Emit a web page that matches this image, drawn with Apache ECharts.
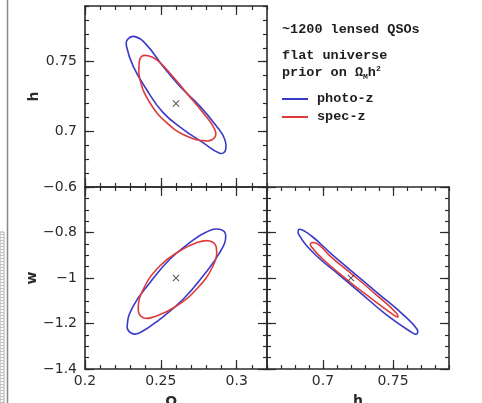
<!DOCTYPE html>
<html>
<head>
<meta charset="utf-8">
<script src="https://cdn.jsdelivr.net/npm/echarts@6/dist/echarts.min.js"></script>
<style>
  html, body { margin: 0; padding: 0; background: #fff; }
  #chart { width: 482px; height: 403px; }
</style>
</head>
<body>
<div id="chart"></div>
<script>
// contours, [x, y] pairs going round each ellipse
const omH_photoZ = [
  [0.2406, 0.7300], [0.2515, 0.7134], [0.2647, 0.7014], [0.2778, 0.6919], [0.2888, 0.6843],
  [0.2925, 0.6860], [0.2921, 0.6943], [0.2866, 0.7038], [0.2757, 0.7181], [0.2625, 0.7324],
  [0.2515, 0.7466], [0.2406, 0.7621], [0.2330, 0.7680], [0.2280, 0.7660], [0.2274, 0.7609],
  [0.2318, 0.7466]
];
const omH_specZ = [
  [0.2428, 0.7205], [0.2538, 0.7062], [0.2669, 0.6966], [0.2801, 0.6931], [0.2855, 0.6955],
  [0.2855, 0.7014], [0.2778, 0.7134], [0.2669, 0.7276], [0.2559, 0.7419], [0.2472, 0.7514],
  [0.2416, 0.7543], [0.2373, 0.7538], [0.2357, 0.7491], [0.2362, 0.7371]
];
const omW_photoZ = [
  [0.2428, -1.0207], [0.2559, -0.9178], [0.2691, -0.8448], [0.2801, -0.7978], [0.2888, -0.7859],
  [0.2928, -0.8154], [0.2888, -0.8888], [0.2778, -0.9912], [0.2647, -1.0936], [0.2493, -1.1815],
  [0.2362, -1.2404], [0.2307, -1.2431], [0.2278, -1.2110], [0.2318, -1.1231]
];
const omW_specZ = [
  [0.2493, -0.9473], [0.2625, -0.8813], [0.2735, -0.8448], [0.2822, -0.8374], [0.2866, -0.8668],
  [0.2844, -0.9473], [0.2735, -1.0497], [0.2603, -1.1231], [0.2472, -1.1670], [0.2384, -1.1745],
  [0.2351, -1.1376], [0.2384, -1.0497]
];
const hW_photoZ = [
  [0.7111, -0.9837], [0.7280, -1.0716], [0.7449, -1.1596], [0.7618, -1.2330], [0.7667, -1.2475],
  [0.7672, -1.2255], [0.7570, -1.1596], [0.7401, -1.0716], [0.7232, -0.9837], [0.7063, -0.8958],
  [0.6918, -0.8154], [0.6833, -0.7859], [0.6826, -0.8079], [0.6942, -0.8958]
];
const hW_specZ = [
  [0.7183, -1.0132], [0.7353, -1.0936], [0.7498, -1.1596], [0.7534, -1.1714], [0.7522, -1.1525],
  [0.7377, -1.0716], [0.7208, -0.9837], [0.7063, -0.9108], [0.6966, -0.8519], [0.6918, -0.8448],
  [0.6913, -0.8593], [0.7014, -0.9253]
];

const fiducial = { om: 0.26, h: 0.72, w: -1 };

const omRange = [0.2, 0.32];
const hRange = [0.66, 0.79];
const wRange = [-1.4, -0.6];
const omMajor = [0.2, 0.25, 0.3];
const hMajor = [0.7, 0.75];
const wMajor = [-1.4, -1.2, -1, -0.8, -0.6];

const BLUE = '#3a3ac8';
const RED = '#dd3b3b';
const INK = '#2b2b2b';
const labelFont = 'DejaVu Sans';
const noteFont = 'Liberation Mono';

const xAxes = [];
const yAxes = [];

// every side of a panel gets two stacked axes: one for the small ticks, one for the long ones
function addAxisPair(list, gridIndex, position, range, step, majors, withLabels, name) {
  const tickLine = { color: INK, width: 1.2 };
  list.push({
    type: 'value',
    gridIndex,
    position,
    min: range[0],
    max: range[1],
    interval: step,
    axisLine: { show: true, onZero: false, lineStyle: { color: INK, width: 1.6 } },
    axisTick: { show: true, inside: true, length: 4, lineStyle: tickLine },
    axisLabel: { show: false },
    splitLine: { show: false }
  });
  const dataIndex = list.length - 1;
  const major = {
    type: 'value',
    gridIndex,
    position,
    min: range[0],
    max: range[1],
    axisLine: { show: false, onZero: false },
    axisTick: { show: true, inside: true, length: 9, customValues: majors, lineStyle: tickLine },
    axisLabel: {
      show: withLabels,
      customValues: majors,
      color: INK,
      fontFamily: labelFont,
      fontSize: 14,
      margin: position === 'left' ? 8 : 5,
      formatter: (v) => String(v).replace('-', '\u2212')
    },
    splitLine: { show: false }
  };
  if (name) {
    Object.assign(major, {
      name,
      nameLocation: 'middle',
      nameGap: position === 'left' ? 44 : 25,
      nameTextStyle: {
        color: INK,
        fontFamily: labelFont,
        fontWeight: 'bold',
        fontSize: 14,
        rich: {
          a: { fontFamily: labelFont, fontWeight: 'bold', fontSize: 14, color: INK },
          s: { fontFamily: labelFont, fontWeight: 'bold', fontSize: 9, color: INK, padding: [8, 0, 0, 0] }
        }
      }
    });
  }
  list.push(major);
  return dataIndex;
}

// panel 0: Omega_m vs h, panel 1: Omega_m vs w, panel 2: h vs w
const x0 = addAxisPair(xAxes, 0, 'bottom', omRange, 0.01, omMajor, false);
addAxisPair(xAxes, 0, 'top', omRange, 0.01, omMajor, false);
const y0 = addAxisPair(yAxes, 0, 'left', hRange, 0.01, hMajor, true, 'h');
addAxisPair(yAxes, 0, 'right', hRange, 0.01, hMajor, false);

const x1 = addAxisPair(xAxes, 1, 'bottom', omRange, 0.01, omMajor, true, '{a|\u03a9}{s|m}');
addAxisPair(xAxes, 1, 'top', omRange, 0.01, omMajor, false);
const y1 = addAxisPair(yAxes, 1, 'left', wRange, 0.05, wMajor, true, 'w');
addAxisPair(yAxes, 1, 'right', wRange, 0.05, wMajor, false);

const x2 = addAxisPair(xAxes, 2, 'bottom', hRange, 0.01, hMajor, true, 'h');
addAxisPair(xAxes, 2, 'top', hRange, 0.01, hMajor, false);
const y2 = addAxisPair(yAxes, 2, 'left', wRange, 0.05, wMajor, false);
addAxisPair(yAxes, 2, 'right', wRange, 0.05, wMajor, false);

const crossSymbol = 'path://M0,1L1,0L5,4L9,0L10,1L6,5L10,9L9,10L5,6L1,10L0,9L4,5Z';

// closed smooth outline through the read points, placed with the axes' own coord()
function contour(name, color, points, xi, yi) {
  return {
    name,
    type: 'custom',
    xAxisIndex: xi,
    yAxisIndex: yi,
    data: points,
    encode: { x: 0, y: 1 },
    silent: true,
    itemStyle: { color },
    renderItem: (params, api) => {
      if (params.dataIndex !== 0) return null;
      return {
        type: 'polygon',
        shape: { points: points.map((p) => api.coord(p)), smooth: 0.45 },
        style: { fill: 'none', stroke: color, lineWidth: 1.6 }
      };
    }
  };
}

function marker(point, xi, yi) {
  return {
    type: 'scatter',
    xAxisIndex: xi,
    yAxisIndex: yi,
    data: [point],
    symbol: crossSymbol,
    symbolSize: 7,
    silent: true,
    itemStyle: { color: INK }
  };
}

const chart = echarts.init(document.getElementById('chart'), null, { renderer: 'canvas' });

const noteStyle = { fill: '#1e1e1e', font: 'bold 13.5px "Liberation Mono"' };

chart.setOption({
  animation: false,
  backgroundColor: '#fff',
  grid: [
    { left: 85, top: 6, width: 182, height: 181, outerBoundsMode: 'none' },
    { left: 85, top: 187, width: 182, height: 182, outerBoundsMode: 'none' },
    { left: 267, top: 187, width: 182, height: 182, outerBoundsMode: 'none' }
  ],
  xAxis: xAxes,
  yAxis: yAxes,
  legend: {
    data: ['photo-z', 'spec-z'],
    orient: 'vertical',
    left: 282,
    top: 92,
    padding: 0,
    icon: 'rect',
    itemWidth: 26,
    itemHeight: 2,
    itemGap: 4,
    selectedMode: false,
    textStyle: {
      color: '#1e1e1e', fontFamily: noteFont, fontWeight: 'bold', fontSize: 13.5, padding: [0, 0, 0, 4]
    }
  },
  graphic: [
    { type: 'line', shape: { x1: 7.5, y1: 0, x2: 7.5, y2: 403 }, style: { stroke: '#888', lineWidth: 1.5 } },
    { type: 'rect', shape: { x: 0, y: 232, width: 4, height: 171 }, style: { fill: '#fff', stroke: '#aaa', lineWidth: 1 } },
    { type: 'line', shape: { x1: 2, y1: 234, x2: 2, y2: 403 }, style: { stroke: '#bbb', lineWidth: 3, lineDash: [1, 2] } },
    { type: 'text', left: 282, top: 23, style: Object.assign({ text: '~1200 lensed QSOs' }, noteStyle) },
    { type: 'text', left: 282, top: 49, style: Object.assign({ text: 'flat universe' }, noteStyle) },
    {
      type: 'text', left: 282, top: 65,
      style: {
        text: '{a|prior on \u03a9}{s|M}{a|h}{p|2}',
        rich: {
          a: { fontFamily: noteFont, fontWeight: 'bold', fontSize: 13.5, fill: '#1e1e1e', lineHeight: 16 },
          s: { fontFamily: noteFont, fontSize: 8, fontWeight: 'bold', fill: '#1e1e1e', lineHeight: 16, verticalAlign: 'bottom' },
          p: { fontFamily: noteFont, fontSize: 8, fontWeight: 'bold', fill: '#1e1e1e', lineHeight: 16, verticalAlign: 'top' }
        }
      }
    }
  ],
  series: [
    contour('photo-z', BLUE, omH_photoZ, x0, y0),
    contour('spec-z', RED, omH_specZ, x0, y0),
    marker([fiducial.om, fiducial.h], x0, y0),
    contour('photo-z', BLUE, omW_photoZ, x1, y1),
    contour('spec-z', RED, omW_specZ, x1, y1),
    marker([fiducial.om, fiducial.w], x1, y1),
    contour('photo-z', BLUE, hW_photoZ, x2, y2),
    contour('spec-z', RED, hW_specZ, x2, y2),
    marker([fiducial.h, fiducial.w], x2, y2)
  ]
});

window.addEventListener('resize', () => chart.resize());
</script>
</body>
</html>
